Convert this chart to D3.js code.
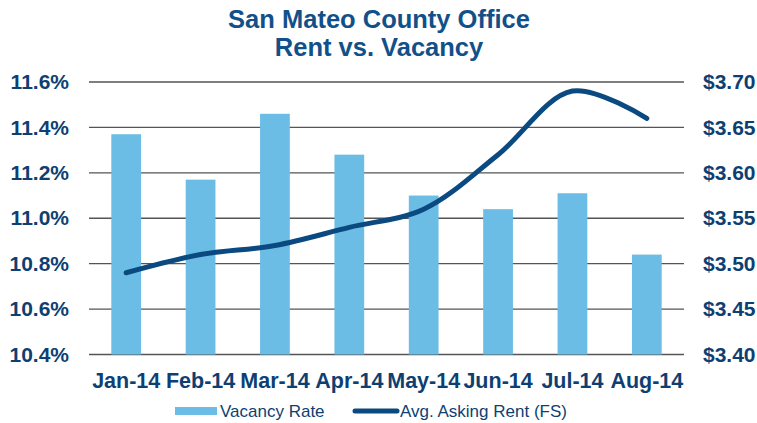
<!DOCTYPE html>
<html><head><meta charset="utf-8">
<script src="https://cdn.jsdelivr.net/npm/d3@7"></script>
<style>body{margin:0;background:#fff}svg{display:block}text{font-family:"Liberation Sans",Arial,sans-serif}</style>
</head><body>
<svg id="c" width="757" height="423"></svg>
<script>
const months = ["Jan-14","Feb-14","Mar-14","Apr-14","May-14","Jun-14","Jul-14","Aug-14"];
const vacancy = [11.37,11.17,11.46,11.28,11.10,11.04,11.11,10.84];
const rent = [3.49,3.51,3.52,3.54,3.56,3.62,3.69,3.66];
const leftTicks = [10.4,10.6,10.8,11.0,11.2,11.4,11.6];
const rightTicks = [3.40,3.45,3.50,3.55,3.60,3.65,3.70];
const titleLines = ["San Mateo County Office","Rent vs. Vacancy"];
const legendLabels = ["Vacancy Rate","Avg. Asking Rent (FS)"];

const svg = d3.select("#c");
const m = {l:89, r:684, t:82, b:354.5};
const navy = "#0e3f72";
const x = d3.scaleBand().domain(months).range([m.l,m.r]).paddingInner(0.6).paddingOuter(0.3);
const yL = d3.scaleLinear().domain([10.4,11.6]).range([m.b,m.t]);
const yR = d3.scaleLinear().domain([3.40,3.70]).range([m.b,m.t]);

// title
svg.append("g").selectAll("text").data(titleLines).join("text")
  .attr("x",379).attr("y",(d,i)=>28+i*28).attr("text-anchor","middle")
  .attr("font-size",25.5).attr("font-weight","bold").attr("fill","#12508a").text(d=>d);

// gridlines
svg.append("g").selectAll("line").data(leftTicks).join("line")
  .attr("x1",m.l).attr("x2",m.r).attr("y1",d=>yL(d)).attr("y2",d=>yL(d))
  .attr("stroke","#555").attr("stroke-width",1.3);

// bars
svg.append("g").selectAll("rect").data(vacancy).join("rect")
  .attr("x",(d,i)=>x(months[i])).attr("width",x.bandwidth())
  .attr("y",d=>yL(d)).attr("height",d=>yL(10.4)-yL(d))
  .attr("fill","#6bbde6");

// line
const line = d3.line().x((d,i)=>x(months[i])+x.bandwidth()/2).y(d=>yR(d)).curve(d3.curveCatmullRom.alpha(0.5));
svg.append("path").datum(rent).attr("d",line).attr("fill","none")
  .attr("stroke","#0b4a80").attr("stroke-width",5).attr("stroke-linecap","round");

// left axis
const axL = svg.append("g").attr("transform",`translate(${m.l},0)`)
  .call(d3.axisLeft(yL).tickValues(leftTicks).tickFormat(d=>d.toFixed(1)+"%").tickSize(0).tickPadding(20));
axL.select(".domain").remove();
axL.selectAll("text").attr("font-size",21).attr("font-weight","bold").attr("fill",navy).attr("font-family","Liberation Sans, Arial, sans-serif");

// right axis
const axR = svg.append("g").attr("transform",`translate(${m.r},0)`)
  .call(d3.axisRight(yR).tickValues(rightTicks).tickFormat(d=>"$"+d.toFixed(2)).tickSize(0).tickPadding(19));
axR.select(".domain").remove();
axR.selectAll("text").attr("font-size",21).attr("font-weight","bold").attr("fill",navy).attr("font-family","Liberation Sans, Arial, sans-serif");

// bottom axis
const axB = svg.append("g").attr("transform",`translate(0,${m.b})`)
  .call(d3.axisBottom(x).tickSize(0).tickPadding(18));
axB.select(".domain").remove();
axB.selectAll("text").attr("font-size",21.5).attr("font-weight","bold").attr("fill",navy).attr("font-family","Liberation Sans, Arial, sans-serif");

// legend
const lg = svg.append("g");
lg.append("rect").attr("x",175).attr("y",407).attr("width",42).attr("height",8).attr("fill","#6bbde6");
lg.append("text").attr("x",220).attr("y",417).attr("font-size",17).attr("fill",navy).text(legendLabels[0]);
lg.append("line").attr("x1",355).attr("x2",397).attr("y1",411).attr("y2",411)
  .attr("stroke","#0b4a80").attr("stroke-width",5).attr("stroke-linecap","round");
lg.append("text").attr("x",400).attr("y",417).attr("font-size",17).attr("fill",navy).text(legendLabels[1]);
</script>
</body></html>
